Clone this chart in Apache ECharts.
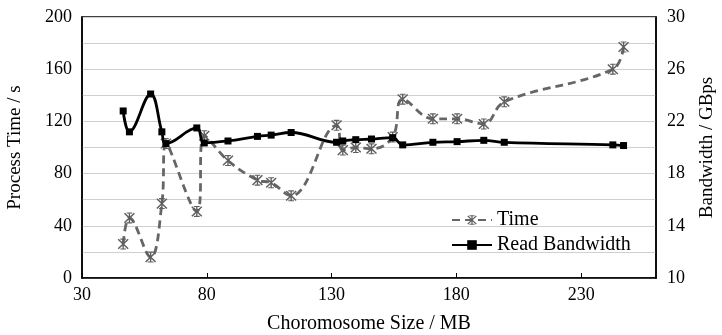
<!DOCTYPE html>
<html>
<head>
<meta charset="utf-8">
<script src="https://cdn.jsdelivr.net/npm/echarts@6/dist/echarts.min.js"></script>
<style>
  html, body { margin: 0; padding: 0; background: #fff; }
  #chart { width: 722px; height: 335px; }
</style>
</head>
<body>
<div id="chart"></div>
<script>
// chromosome sizes (MB), shared by both series
const sizes = [46.5, 49, 57.5, 62, 63.6, 76, 79, 88.5, 100.3, 105.8, 113.8, 132, 134.5, 139.7, 146, 154.5, 158.5, 170.6, 180.3, 191, 199.2, 242.7, 247];
// process time (s)
const timeValues = [26, 46, 16, 57, 103, 51, 109, 90, 75, 73, 63, 117, 98, 100, 99, 108, 137, 122, 122, 118, 135, 160, 177];
// read bandwidth (GBps)
const bandwidthValues = [22.8, 21.2, 24.1, 21.2, 20.3, 21.5, 20.35, 20.5, 20.85, 20.95, 21.15, 20.4, 20.5, 20.6, 20.65, 20.75, 20.2, 20.4, 20.45, 20.55, 20.4, 20.2, 20.15];

const leftTickStep = 40;

const FONT = "'Liberation Serif', 'DejaVu Serif', serif";

// asterisk-like marker
const starPath = "path://M4.4,0 h1.2 v10 h-1.2 z M0.2,1.1 L1.1,0.2 L9.8,8.9 L8.9,9.8 z M8.9,0.2 L9.8,1.1 L1.1,9.8 L0.2,8.9 z M2.5,0 h5 v1 h-5 z M2.5,9 h5 v1 h-5 z";

const chart = echarts.init(document.getElementById("chart"), undefined, { renderer: "canvas" });

const option = {
  animation: false,
  textStyle: { fontFamily: FONT, color: "#000" },
  grid: {
    left: 82, right: 66, top: 17, bottom: 57,
    outerBoundsMode: "none",
    containLabel: false,
    show: true, borderColor: "#000", borderWidth: 1.5
  },
  legend: {
    orient: "vertical",
    left: 446, top: 205,
    itemWidth: 40, itemHeight: 12, itemGap: 5,
    textStyle: { fontFamily: FONT, fontSize: 20, color: "#000" },
    data: ["Time", "Read Bandwidth"]
  },
  xAxis: {
    type: "value",
    min: 30, max: 260, interval: 50,
    name: "Choromosome Size / MB",
    nameLocation: "middle",
    nameGap: 36,
    nameTextStyle: { fontFamily: FONT, fontSize: 20, color: "#000" },
    axisLine: { lineStyle: { color: "#000", width: 1.5 } },
    axisTick: { inside: true, length: 5, lineStyle: { color: "#000" } },
    axisLabel: { showMaxLabel: false, fontFamily: FONT, fontSize: 18, color: "#000", margin: 8 },
    splitLine: { show: false }
  },
  yAxis: [
    {
      type: "value",
      min: 0, max: 200, interval: 20,
      name: "Process Time / s",
      nameLocation: "middle",
      nameGap: 57,
      nameRotate: 90,
      nameTextStyle: { fontFamily: FONT, fontSize: 19, color: "#000" },
      axisLine: { show: true, lineStyle: { color: "#000", width: 1.5 } },
      axisTick: { show: false },
      axisLabel: {
        fontFamily: FONT, fontSize: 18, color: "#000", margin: 10,
        formatter: v => (v % leftTickStep === 0 ? String(v) : "")
      },
      splitLine: { show: true, lineStyle: { color: "#d0d0d0", width: 1 } }
    },
    {
      type: "value",
      min: 10, max: 30, interval: 4,
      name: "Bandwidth / GBps",
      nameLocation: "middle",
      nameGap: 42,
      nameRotate: 90,
      nameTextStyle: { fontFamily: FONT, fontSize: 19, color: "#000" },
      axisLine: { show: true, lineStyle: { color: "#000", width: 1.5 } },
      axisTick: { show: false },
      axisLabel: { fontFamily: FONT, fontSize: 18, color: "#000", margin: 11 },
      splitLine: { show: false }
    }
  ],
  series: [
    {
      name: "Time",
      type: "line",
      yAxisIndex: 0,
      smooth: 0.4,
      symbol: starPath,
      symbolSize: 11,
      itemStyle: { color: "#5f5f5f" },
      lineStyle: { color: "#666666", width: 2.8, type: [8, 5] },
      data: sizes.map((s, i) => [s, timeValues[i]]),
      z: 2
    },
    {
      name: "Read Bandwidth",
      type: "line",
      yAxisIndex: 1,
      smooth: 0.4,
      symbol: "rect",
      symbolSize: 7,
      itemStyle: { color: "#000" },
      lineStyle: { color: "#000", width: 2.8 },
      data: sizes.map((s, i) => [s, bandwidthValues[i]]),
      z: 3
    }
  ]
};

chart.setOption(option);
</script>
</body>
</html>
